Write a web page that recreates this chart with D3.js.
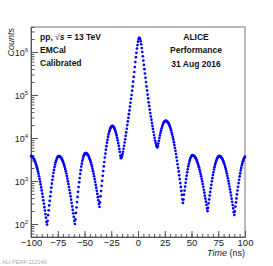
<!DOCTYPE html>
<html><head><meta charset="utf-8">
<script src="https://cdn.jsdelivr.net/npm/d3@7"></script>
<style>body{margin:0;background:#fff}svg{display:block}text{font-family:"Liberation Sans",Arial,sans-serif}</style>
</head><body><svg id="c" width="273" height="266"></svg>
<script>
// time bins (ns), 0.5 ns wide
const times = d3.range(-100, 100.25, 0.5);
// counts per bin
const counts = [
3800,3770,3730,3620,3510,3340,3180,2960,2770,2540,2320,2090,1880,1670,1480,1290,1120,967,834,709,
603,508,428,357,298,247,206,170,141,112,97,118,161,208,270,345,441,556,701,865,
1067,1285,1549,1811,2118,2404,2729,2992,3281,3467,3664,3760,3802,3770,3733,3620,3508,3342,3184,2976,
2780,2547,2333,2104,1897,1683,1493,1305,1140,984,849,724,617,521,440,368,308,256,213,177,
147,118,100,128,181,242,324,426,561,724,933,1171,1469,1782,2163,2527,2951,3308,3707,3977,
4266,4380,4467,4440,4375,4242,4111,3905,3707,3447,3206,2935,2685,2413,2168,1917,1694,1477,1288,1110,
957,817,698,591,500,421,355,292,251,320,443,584,771,1008,1318,1698,2188,2770,3508,4335,
5358,6457,7780,9110,10666,12090,13709,15020,16444,17360,18323,18750,19055,18800,18450,17560,16711,15420,14223,12780,
11482,10080,8851,7621,6561,5578,4742,3890,3388,3510,3802,4200,4786,5623,6607,7852,9333,11220,13490,16410,
19953,24270,29512,35890,43652,53700,66069,81280,100000,125900,158489,204200,263027,342800,446684,582100,758578,955000,1202264,1445000,
1737801,1995000,2137962,2113000,1995262,1778000,1513561,1230000,1000000,794300,630957,501200,398107,316200,251189,199500,158489,127400,102329,83180,
67608,55590,45709,38020,31623,26610,22387,19050,16218,13800,11749,10120,8710,7762,6918,6310,6026,6457,7413,8610,
10000,11480,13183,14790,16596,18200,19953,21380,22909,23710,24547,24950,25119,24950,24547,23820,23121,21930,20797,19340,
17989,16410,14962,13370,11940,10510,9247,7998,6918,5896,5023,4232,3565,2958,2455,2023,1667,1358,1107,897,
728,588,475,375,309,370,482,598,741,907,1109,1332,1600,1871,2188,2486,2825,3105,3412,3614,
3828,3930,3981,3960,3908,3802,3698,3528,3365,3155,2958,2729,2518,2286,2075,1854,1656,1460,1288,1125,
982,847,731,627,537,457,389,330,279,230,200,238,303,373,458,557,678,816,982,1161,
1374,1596,1854,2099,2377,2633,2917,3141,3381,3532,3690,3770,3802,3780,3733,3622,3516,3346,3184,2976,
2780,2553,2344,2117,1910,1698,1510,1323,1159,1003,869,745,638,542,460,389,328,275,231,188,
162,196,254,317,394,487,601,733,893,1069,1279,1502,1762,2014,2301,2568,2864,3097,3350,3512,
3681
];
const xTicks = [-100,-75,-50,-25,0,25,50,75,100];
const yTickExps = [2,3,4,5,6];
const leftText = ["EMCal","Calibrated"];
const rightText = ["ALICE","Performance","31 Aug 2016"];

const svg = d3.select("#c");
const L=31,R=245,T=27,B=237;
const x = d3.scaleLinear().domain([-100,100]).range([L,R]);
const y = d3.scaleLog().domain([49.9,3.81e6]).range([B,T]);
const axisCol="#555";

// frame
svg.append("rect").attr("x",L).attr("y",T).attr("width",R-L).attr("height",B-T)
  .attr("fill","none").attr("stroke","#777").attr("stroke-width",1);

// x axis ticks (inside, pointing up)
const gx = svg.append("g").attr("transform",`translate(0,${B})`);
gx.call(d3.axisBottom(x).tickValues(d3.range(-100,101,5)).tickSize(-3).tickFormat(""))
gx.select(".domain").attr("stroke",axisCol);
gx.selectAll(".tick line").attr("stroke",axisCol);
const gx2 = svg.append("g").attr("transform",`translate(0,${B})`);
gx2.call(d3.axisBottom(x).tickValues(xTicks).tickSize(-6).tickPadding(4).tickFormat(d=>d<0?"\u2212"+(-d):d));
gx2.select(".domain").remove();
gx2.selectAll(".tick line").attr("stroke",axisCol);
gx2.selectAll(".tick text").attr("font-size","9.5px").attr("fill","#222").attr("font-family","Liberation Sans, Arial").attr("dy","0.55em");

// y axis ticks (inside)
const minorVals=[];
for(let e=1;e<=6;e++) for(let m=2;m<=9;m++){const v=m*Math.pow(10,e); if(v>=49.9&&v<=3.81e6) minorVals.push(v);}
const gy = svg.append("g").attr("transform",`translate(${L},0)`);
gy.call(d3.axisLeft(y).tickValues(minorVals).tickSize(-3.5).tickFormat(""));
gy.select(".domain").attr("stroke",axisCol);
gy.selectAll(".tick line").attr("stroke",axisCol);
const gy2 = svg.append("g").attr("transform",`translate(${L},0)`);
gy2.call(d3.axisLeft(y).tickValues(yTickExps.map(e=>Math.pow(10,e))).tickSize(-7).tickFormat(""));
gy2.select(".domain").remove();
gy2.selectAll(".tick line").attr("stroke",axisCol);
yTickExps.forEach(e=>{
  const t=svg.append("text").attr("x",L-3).attr("y",y(Math.pow(10,e))+4)
    .attr("text-anchor","end").attr("font-size","9px").attr("fill","#222");
  t.append("tspan").text("10");
  t.append("tspan").attr("dy",-4).attr("font-size","6px").text(e);
});

// axis titles
svg.append("text").attr("transform",`translate(14,${T+1}) rotate(-90)`).attr("text-anchor","end")
  .attr("font-size","9px").attr("font-style","italic").attr("fill","#222").text("Counts");
const xt = svg.append("text").attr("x",R).attr("y",256).attr("text-anchor","end")
  .attr("font-size","9px").attr("fill","#222");
xt.append("tspan").attr("font-style","italic").text("Time");
xt.append("tspan").text(" (ns)");

// data points
const pts = times.map((t,i)=>[t,counts[i]]).filter(d=>d[1]!==undefined);
svg.append("g").selectAll("circle").data(pts).join("circle")
  .attr("cx",d=>x(d[0])).attr("cy",d=>y(d[1])).attr("r",1.35).attr("fill","#0000ff");

// labels
const t0 = svg.append("text").attr("x",40).attr("y",39.5).attr("font-size","8.5px").attr("font-weight","bold").attr("fill","#111");
t0.append("tspan").text("pp, ");
t0.append("tspan").attr("font-weight","normal").text("\u221A");
t0.append("tspan").attr("font-style","italic").text("s");
t0.append("tspan").text(" = 13 TeV");
leftText.forEach((s,i)=>svg.append("text").attr("x",40).attr("y",53+i*12.5).attr("font-size","8.5px")
  .attr("font-weight","bold").attr("fill","#111").text(s));
rightText.forEach((s,i)=>svg.append("text").attr("x",196).attr("y",39.5+i*13.5).attr("text-anchor","middle")
  .attr("font-size","8.5px").attr("font-weight","bold").attr("fill","#111").text(s));

svg.append("text").attr("x",2).attr("y",264).attr("font-size","5.5px").attr("fill","#aaa")
  .attr("font-family","DejaVu Sans Mono, monospace").text("ALI-PERF-112149");
</script></body></html>
